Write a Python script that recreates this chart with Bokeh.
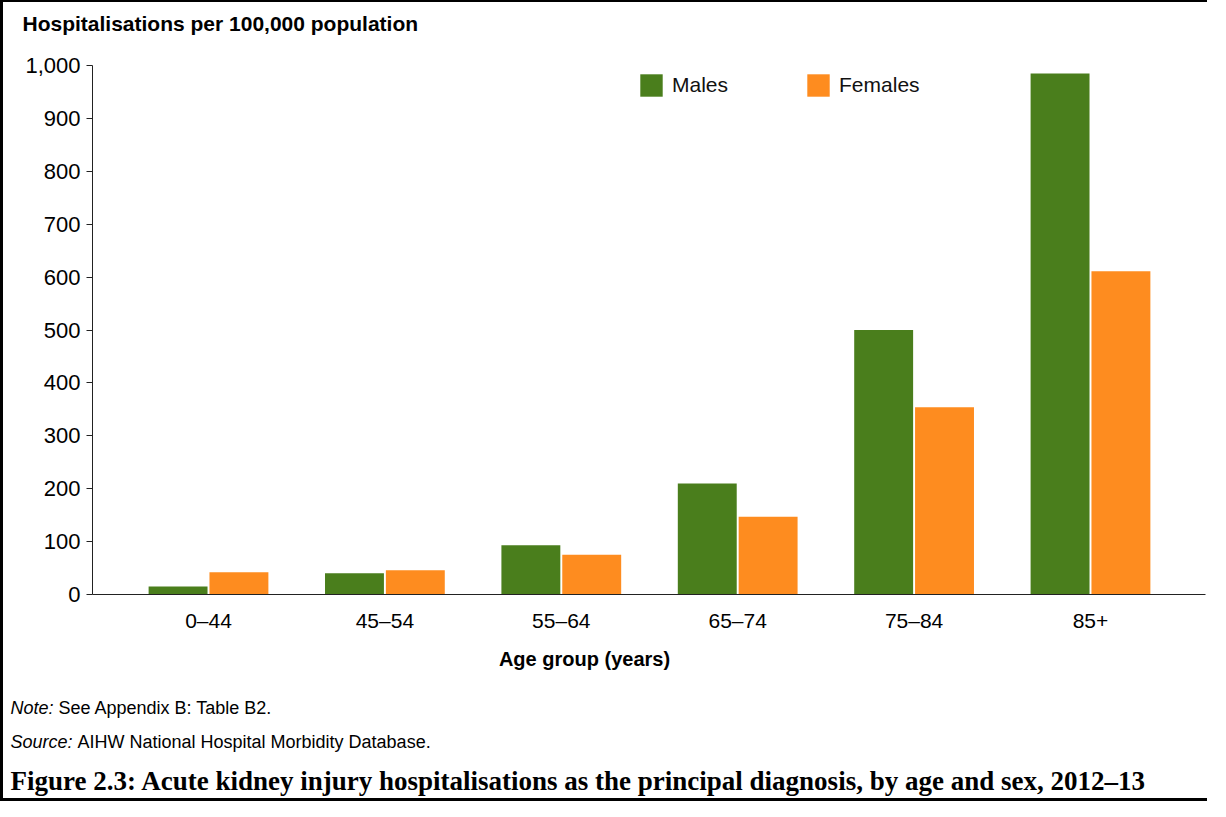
from bokeh.plotting import figure
from bokeh.models import (Range1d, FixedTicker, NumeralTickFormatter, Label,
                          Legend, LegendItem, ColumnDataSource)
from bokeh.embed import file_html
from bokeh.resources import INLINE
import numpy as np

# ---- data ----
age_groups = ["0–44", "45–54", "55–64", "65–74", "75–84", "85+"]
males = [15, 40, 93, 210, 500, 985]
females = [42, 46, 75, 147, 354, 611]
y_ticks = [0, 100, 200, 300, 400, 500, 600, 700, 800, 900, 1000]

GREEN = "#4a7e1c"
ORANGE = "#fe8c1f"
SANS = "Liberation Sans"

idx = np.arange(len(age_groups))
src = ColumnDataSource(dict(
    xm=idx - 0.1725, xf=idx + 0.1725, males=males, females=females))

W, H = 1207, 801
p = figure(width=W, height=H, output_backend="svg", toolbar_location=None,
           x_range=Range1d(-0.6576, 5.652), y_range=Range1d(0, 1000),
           min_border_left=89, min_border_right=5, min_border_top=63,
           min_border_bottom=209)
p.styles = {"border-left": "3px solid black", "border-top": "2px solid black",
            "border-bottom": "3px solid black"}
p.outline_line_color = None
p.xgrid.visible = False
p.ygrid.visible = False
p.background_fill_color = "white"
p.border_fill_color = "white"

rm = p.vbar(x="xm", top="males", width=0.334, source=src, fill_color=GREEN,
            line_color=None)
rf = p.vbar(x="xf", top="females", width=0.334, source=src, fill_color=ORANGE,
            line_color=None)

# axes
xa = p.xaxis[0]
xa.ticker = FixedTicker(ticks=list(idx))
xa.major_label_overrides = {int(i): g for i, g in zip(idx, age_groups)}
xa.major_tick_out = 0
xa.major_tick_in = 0
xa.minor_tick_out = 0
xa.minor_tick_in = 0
xa.axis_line_color = "#222222"
xa.major_label_text_font = SANS
xa.major_label_text_font_size = "21px"
xa.major_label_text_color = "black"
xa.major_label_standoff = 14

ya = p.yaxis[0]
ya.ticker = FixedTicker(ticks=y_ticks)
ya.formatter = NumeralTickFormatter(format="0,0")
ya.major_tick_out = 6
ya.major_tick_in = 0
ya.minor_tick_out = 0
ya.minor_tick_in = 0
ya.axis_line_color = "#222222"
ya.major_tick_line_color = "#222222"
ya.major_label_text_font = SANS
ya.major_label_text_font_size = "22px"
ya.major_label_text_color = "black"
ya.major_label_standoff = 6

legend = Legend(items=[LegendItem(label="Males", renderers=[rm]),
                       LegendItem(label="Females", renderers=[rf])],
                orientation="horizontal", location=(545, 495),
                glyph_width=28, glyph_height=28, label_height=28,
                label_standoff=7, spacing=76, padding=0, margin=0,
                border_line_color=None, background_fill_alpha=0,
                label_text_font=SANS, label_text_font_size="21px",
                label_text_color="#111111")
p.add_layout(legend)

# labels placed in side panels (each stacks in its own slot)
def lab(text, x, y, size, place, style="normal", font=SANS, align="left"):
    p.add_layout(Label(text=text, x=x, y=y, x_units="screen", y_units="screen",
                       text_font=font, text_font_size=size,
                       text_font_style=style, text_align=align,
                       text_baseline="middle", text_color="black"), place)

lab("Hospitalisations per 100,000 population", -70, 42, "21px", "above", "bold")
lab("Age group (years)", 492, -2, "20px", "below", "bold", align="center")
lab("Note:", -82, -31, "18px", "below", "italic")
lab("See Appendix B: Table B2.", -34, -11, "18px", "below")
lab("Source:", -82, -25, "18px", "below", "italic")
lab("AIHW National Hospital Morbidity Database.", -15, -5, "18px", "below")
lab("Figure 2.3: Acute kidney injury hospitalisations as the principal "
    "diagnosis, by age and sex, 2012–13", -82, -14, "27px", "below", "bold",
    font="Liberation Serif")

open("out.html", "w").write(file_html(p, INLINE))
